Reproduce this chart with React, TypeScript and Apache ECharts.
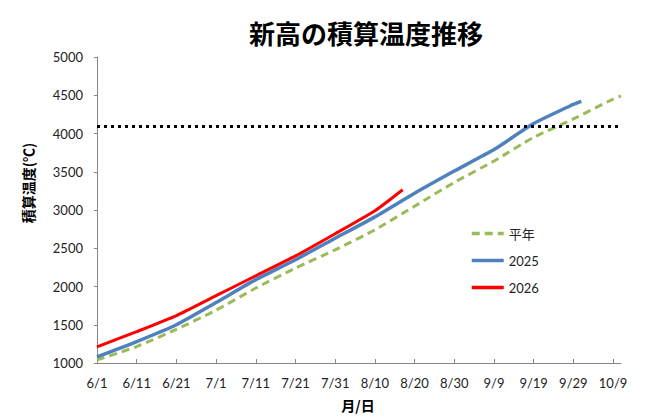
import React, { useEffect, useRef } from "react";
import * as echarts from "echarts";

// ---- texts ----
const chartTitle = "新高の積算温度推移";
const yAxisTitle = "積算温度(℃)";
const xAxisTitle = "月/日";

// ---- axes ----
const xTickLabels = ["6/1", "6/11", "6/21", "7/1", "7/11", "7/21", "7/31", "8/10", "8/20", "8/30", "9/9", "9/19", "9/29", "10/9"];
const xAxisStart = "6/1";
const xAxisEnd = "10/11";
const yMin = 1000;
const yMax = 5000;
const yInterval = 500;
const thresholdValue = 4100;

// ---- series ----
const seriesNames = ["平年", "2025", "2026"];

const normalDates = ["6/1", "6/11", "6/21", "7/1", "7/11", "7/21", "7/31", "8/10", "8/20", "8/30", "9/9", "9/19", "9/29", "10/9", "10/11"];
const normalValues = [1040, 1215, 1440, 1690, 1980, 2240, 2480, 2740, 3050, 3360, 3640, 3950, 4190, 4450, 4490];

const y2025Dates = ["6/1", "6/11", "6/21", "7/1", "7/11", "7/21", "7/31", "8/10", "8/20", "8/30", "9/9", "9/19", "9/29", "10/1"];
const y2025Values = [1080, 1280, 1500, 1790, 2090, 2350, 2630, 2910, 3220, 3510, 3790, 4130, 4380, 4420];

const y2026Dates = ["6/1", "6/11", "6/21", "7/1", "7/11", "7/21", "7/31", "8/10", "8/17"];
const y2026Values = [1210, 1410, 1620, 1880, 2140, 2400, 2690, 2990, 3265];

// day offset from June 1st
const monthStartOffset: Record<number, number> = { 6: 0, 7: 30, 8: 61, 9: 92, 10: 122 };
function dayOf(md: string): number {
  const [m, d] = md.split("/").map(Number);
  return monthStartOffset[m] + d - 1;
}
function pairs(dates: string[], values: number[]) {
  return dates.map((d, i) => [dayOf(d), values[i]]);
}

const FONT = "Lato, 'Noto Sans CJK JP', sans-serif";
const CJK = "'Noto Sans CJK JP', sans-serif";

export default function App() {
  const ref = useRef<HTMLDivElement>(null);

  useEffect(() => {
    if (!ref.current) return;
    const chart = echarts.init(ref.current, undefined, { renderer: "svg" });
    const tickValues = xTickLabels.map(dayOf);
    const labelMap: Record<number, string> = {};
    xTickLabels.forEach((l) => (labelMap[dayOf(l)] = l));

    chart.setOption({
      animation: false,
      backgroundColor: "#ffffff",
      grid: { left: 97, right: 39, top: 57, bottom: 57 },
      graphic: [
        {
          type: "text",
          x: 366,
          y: 32,
          style: {
            text: chartTitle,
            font: `bold 26px ${CJK}`,
            fill: "#000",
            textAlign: "center",
            textVerticalAlign: "middle",
          },
        },
        {
          type: "text",
          x: 28,
          y: 183,
          rotation: Math.PI / 2,
          style: {
            text: yAxisTitle,
            font: `bold 14px ${CJK}`,
            fill: "#000",
            textAlign: "center",
            textVerticalAlign: "middle",
          },
        },
        {
          type: "text",
          x: 358,
          y: 405,
          style: {
            text: xAxisTitle,
            font: `bold 14px ${CJK}`,
            fill: "#000",
            textAlign: "center",
            textVerticalAlign: "middle",
          },
        },
      ],
      legend: {
        data: seriesNames,
        orient: "vertical",
        left: 465,
        top: 222,
        itemWidth: 32,
        itemHeight: 14,
        itemGap: 14,
        itemStyle: { opacity: 0 },
        lineStyle: { width: 3.5 },
        textStyle: { fontSize: 13, color: "#222", fontFamily: FONT },
      },
      xAxis: {
        type: "value",
        min: dayOf(xAxisStart),
        max: dayOf(xAxisEnd),
        axisLine: { show: true, lineStyle: { color: "#868686", width: 1 } },
        axisTick: { show: true, inside: true, length: 4, customValues: tickValues, lineStyle: { color: "#868686" } },
        axisLabel: {
          customValues: tickValues,
          formatter: (v: number) => labelMap[v] ?? "",
          color: "#222",
          fontSize: 13,
          fontFamily: FONT,
          margin: 13,
        },
        splitLine: { show: false },
      },
      yAxis: {
        type: "value",
        min: yMin,
        max: yMax,
        interval: yInterval,
        axisLine: { show: true, lineStyle: { color: "#868686", width: 1 } },
        axisTick: { show: true, inside: false, length: 3, lineStyle: { color: "#868686" } },
        axisLabel: {
          color: "#222",
          fontSize: 13,
          fontFamily: FONT,
          margin: 14,
          formatter: (v: number) => String(v),
        },
        splitLine: { show: false },
      },
      series: [
        {
          name: seriesNames[0],
          type: "line",
          data: pairs(normalDates, normalValues),
          symbol: "none",
          smooth: 0.2,
          lineStyle: { color: "#9BBB59", width: 3, type: [8, 5] },
          itemStyle: { color: "#9BBB59" },
        },
        {
          name: seriesNames[1],
          type: "line",
          data: pairs(y2025Dates, y2025Values),
          symbol: "none",
          smooth: 0.2,
          lineStyle: { color: "#4F81BD", width: 3.5 },
          itemStyle: { color: "#4F81BD" },
        },
        {
          name: seriesNames[2],
          type: "line",
          data: pairs(y2026Dates, y2026Values),
          symbol: "none",
          smooth: 0.2,
          lineStyle: { color: "#FF0000", width: 3 },
          itemStyle: { color: "#FF0000" },
          markLine: {
            silent: true,
            symbol: ["none", "none"],
            label: { show: false },
            lineStyle: { color: "#000", width: 3, type: [3, 4] },
            data: [{ yAxis: thresholdValue }],
          },
        },
      ],
    });
    return () => chart.dispose();
  }, []);

  return (
    <div
      ref={ref}
      style={{ position: "fixed", left: 0, top: 0, width: 660, height: 420, background: "#fff" }}
    />
  );
}
